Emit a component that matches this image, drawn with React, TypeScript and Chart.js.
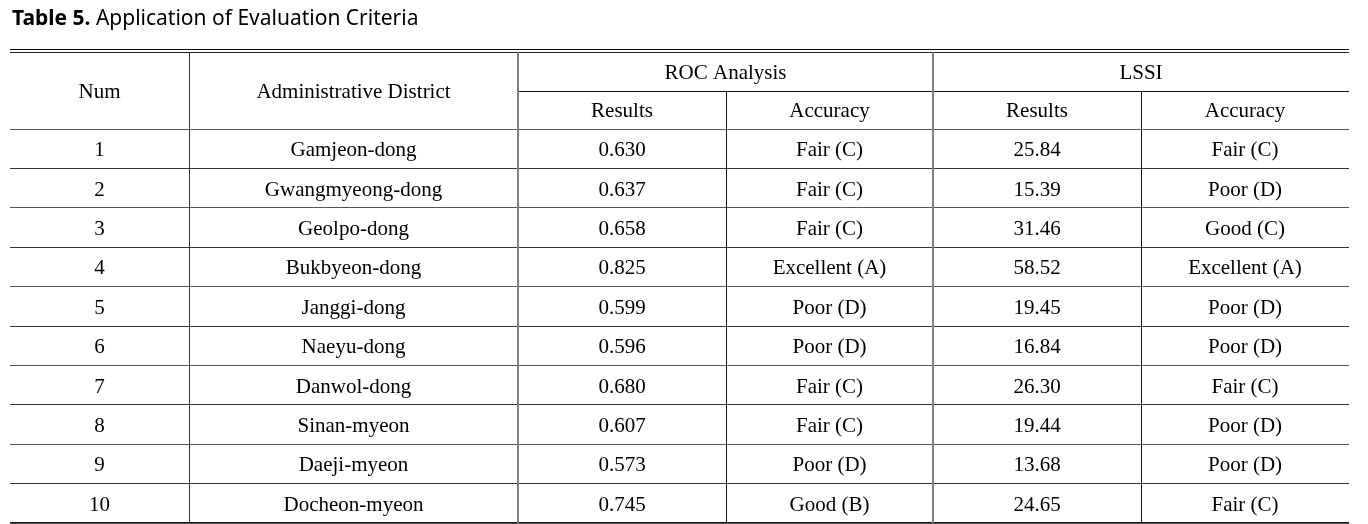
import React, { useEffect, useRef } from "react";
import { Chart, registerables } from "chart.js";

Chart.register(...registerables);

const titleBold = "Table 5.";
const titleRest = " Application of Evaluation Criteria";
const headerTop = ["Num", "Administrative District", "ROC Analysis", "LSSI"];
const headerSub = ["Results", "Accuracy", "Results", "Accuracy"];
const nums = ["1", "2", "3", "4", "5", "6", "7", "8", "9", "10"];
const districts = [
  "Gamjeon-dong",
  "Gwangmyeong-dong",
  "Geolpo-dong",
  "Bukbyeon-dong",
  "Janggi-dong",
  "Naeyu-dong",
  "Danwol-dong",
  "Sinan-myeon",
  "Daeji-myeon",
  "Docheon-myeon",
];
const rocResults = [0.63, 0.637, 0.658, 0.825, 0.599, 0.596, 0.68, 0.607, 0.573, 0.745];
const rocAccuracy = [
  "Fair (C)", "Fair (C)", "Fair (C)", "Excellent (A)", "Poor (D)",
  "Poor (D)", "Fair (C)", "Fair (C)", "Poor (D)", "Good (B)",
];
const lssiResults = [25.84, 15.39, 31.46, 58.52, 19.45, 16.84, 26.3, 19.44, 13.68, 24.65];
const lssiAccuracy = [
  "Fair (C)", "Poor (D)", "Good (C)", "Excellent (A)", "Poor (D)",
  "Poor (D)", "Fair (C)", "Poor (D)", "Poor (D)", "Fair (C)",
];

// layout (scale units)
const colEdges = [0, 179, 508, 716, 923, 1131, 1339];
const headerRowH = 38.5;
const bodyRowH = 39.4;
const rowEdges: number[] = [0, headerRowH, headerRowH * 2];
for (let i = 1; i <= nums.length; i++) rowEdges.push(headerRowH * 2 + bodyRowH * i);
const yMax = rowEdges[rowEdges.length - 1];

const SERIF = '21px "Liberation Serif", "Times New Roman", serif';

const tablePlugin = {
  id: "tablePlugin",
  afterDraw(chart: any) {
    const { ctx, scales } = chart;
    const xs = scales.x;
    const ys = scales.y;
    const X = (v: number) => xs.getPixelForValue(v);
    const Y = (v: number) => ys.getPixelForValue(v);
    const left = Math.round(X(0));
    const right = Math.round(X(colEdges[colEdges.length - 1]));
    ctx.save();

    // title
    ctx.fillStyle = "#000";
    ctx.textBaseline = "alphabetic";
    ctx.textAlign = "left";
    ctx.font = 'bold 21px "Noto Sans", sans-serif';
    ctx.fillText(titleBold, 12, 25);
    const bw = ctx.measureText(titleBold).width;
    ctx.font = '21px "Noto Sans", sans-serif';
    ctx.fillText(titleRest, 12 + bw, 25);

    const hline = (y: number, x0: number, x1: number, color: string, w = 1) => {
      ctx.fillStyle = color;
      ctx.fillRect(x0, Math.round(y), x1 - x0, w);
    };
    const vline = (x: number, y0: number, y1: number, color: string, w = 1) => {
      ctx.fillStyle = color;
      ctx.fillRect(Math.round(x) - (w > 1 ? 1 : 0), Math.round(y0), w, Math.round(y1) - Math.round(y0));
    };

    const top = Y(0);
    const bottom = Y(yMax);
    // top double rule
    hline(top - 3, left, right, "#111");
    hline(top, left, right, "#222");
    // header mid rule under group headings
    hline(Y(rowEdges[1]), Math.round(X(colEdges[2])), right, "#111");
    // body rules
    for (let i = 2; i < rowEdges.length; i++) {
      hline(Y(rowEdges[i]) - 0.5, left, right, i % 2 === 0 ? "#555" : "#333");
    }
    hline(bottom - 1, left, right, "#111");

    // vertical rules
    vline(X(colEdges[1]), top, bottom, "#333");
    vline(X(colEdges[2]), top, bottom, "#808080", 2);
    vline(X(colEdges[3]), Y(rowEdges[1]), bottom, "#111");
    vline(X(colEdges[4]), top, bottom, "#808080", 2);
    vline(X(colEdges[5]), Y(rowEdges[1]), bottom, "#111");

    // text
    ctx.fillStyle = "#000";
    ctx.font = SERIF;
    ctx.textAlign = "center";
    ctx.textBaseline = "middle";
    const cx = (c0: number, c1: number) => X((colEdges[c0] + colEdges[c1]) / 2);
    const cy = (r0: number, r1: number) => Y((rowEdges[r0] + rowEdges[r1]) / 2) + 2;

    ctx.fillText(headerTop[0], cx(0, 1), cy(0, 2));
    ctx.fillText(headerTop[1], cx(1, 2), cy(0, 2));
    ctx.fillText(headerTop[2], cx(2, 4), cy(0, 1));
    ctx.fillText(headerTop[3], cx(4, 6), cy(0, 1));
    headerSub.forEach((t, i) => ctx.fillText(t, cx(2 + i, 3 + i), cy(1, 2)));

    for (let r = 0; r < nums.length; r++) {
      const yy = cy(r + 2, r + 3);
      const cells = [
        nums[r],
        districts[r],
        rocResults[r].toFixed(3),
        rocAccuracy[r],
        lssiResults[r].toFixed(2),
        lssiAccuracy[r],
      ];
      cells.forEach((t, c) => ctx.fillText(t, cx(c, c + 1), yy));
    }
    ctx.restore();
  },
};

export default function App() {
  const ref = useRef<HTMLCanvasElement | null>(null);
  useEffect(() => {
    if (!ref.current) return;
    const chart = new Chart(ref.current, {
      type: "scatter",
      data: {
        datasets: [
          {
            data: nums.map((_, i) => ({ x: colEdges[0], y: rowEdges[i + 2] })),
            pointRadius: 0,
            showLine: false,
          },
        ],
      },
      options: {
        animation: false,
        responsive: false,
        events: [],
        layout: { padding: { left: 10, right: 19, top: 52, bottom: 1 } },
        plugins: { legend: { display: false }, tooltip: { enabled: false }, title: { display: false } },
        scales: {
          x: { type: "linear", min: 0, max: colEdges[colEdges.length - 1], display: false },
          y: { type: "linear", min: 0, max: yMax, reverse: true, display: false },
        },
      },
      plugins: [tablePlugin],
    } as any);
    return () => chart.destroy();
  }, []);
  return (
    <div style={{ position: "fixed", left: 0, top: 0, width: 1368, height: 524, background: "#fff" }}>
      <canvas ref={ref} width={1368} height={524} style={{ display: "block" }} />
    </div>
  );
}
